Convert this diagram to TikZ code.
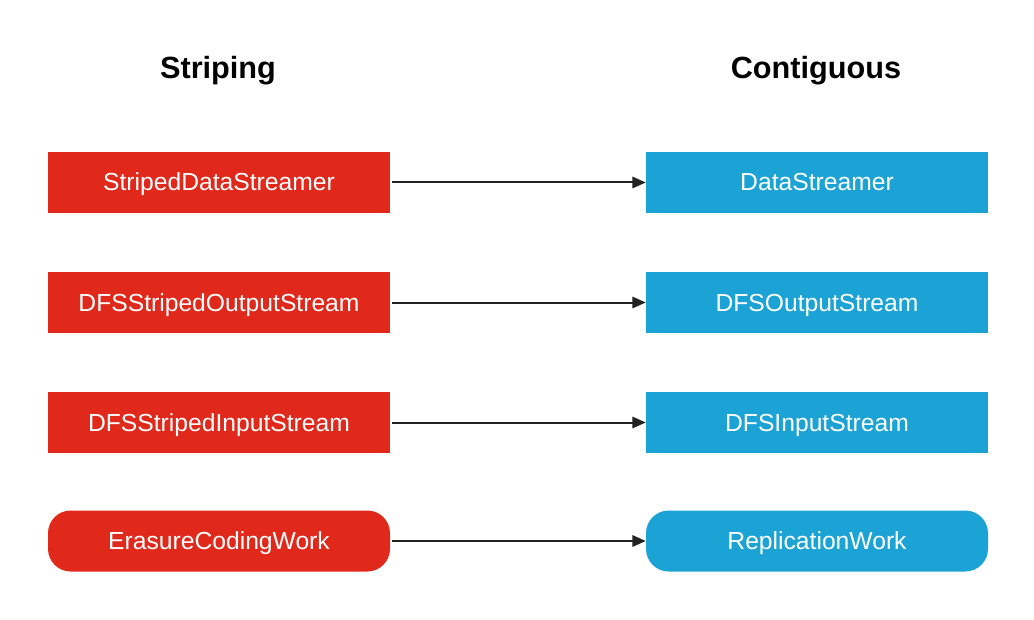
\documentclass[tikz,border=0pt]{standalone}
\usepackage{fontspec}
\setmainfont{Liberation Sans}
\usetikzlibrary{arrows.meta}
\definecolor{stripred}{HTML}{E0281B}
\definecolor{contblue}{HTML}{1BA3D6}
\definecolor{arrowgray}{HTML}{222222}
\tikzset{
  redbox/.style={fill=stripred,text=white,minimum width=256.5pt,minimum height=45.75pt,inner sep=0pt,
    text height=12.75pt,text depth=0pt,font=\fontsize{18.5}{20}\selectfont},
  bluebox/.style={redbox,fill=contblue},
  title/.style={font=\bfseries\fontsize{23}{26}\selectfont},
  link/.style={arrowgray,line width=1.5pt,shorten <=1pt,-{Triangle[length=10pt,width=8.5pt]}}
}
\begin{document}
\begin{tikzpicture}[x=0.75pt,y=-0.75pt]
\useasboundingbox (0,0) rectangle (1034,620);
%\draw[step=50,gray,very thin] (0,0) grid (1034,620); %background grid

\node[title] (striping) at (218,71) {Striping};
\node[title] (contiguous) at (816,71) {Contiguous};

\node[redbox] (sds) at (219,182.5) {StripedDataStreamer};
\node[redbox] (sos) at (219,302.5) {DFSStripedOutputStream};
\node[redbox] (sis) at (219,422.5) {DFSStripedInputStream};
\node[redbox,rounded corners=17pt] (ecw) at (219,541) {ErasureCodingWork};

\node[bluebox] (ds) at (817,182.5) {DataStreamer};
\node[bluebox] (os) at (817,302.5) {DFSOutputStream};
\node[bluebox] (is) at (817,422.5) {DFSInputStream};
\node[bluebox,rounded corners=17pt] (rw) at (817,541) {ReplicationWork};

\draw[link] (sds) -- (ds);
\draw[link] (sos) -- (os);
\draw[link] (sis) -- (is);
\draw[link] (ecw) -- (rw);

\end{tikzpicture}
\end{document}
